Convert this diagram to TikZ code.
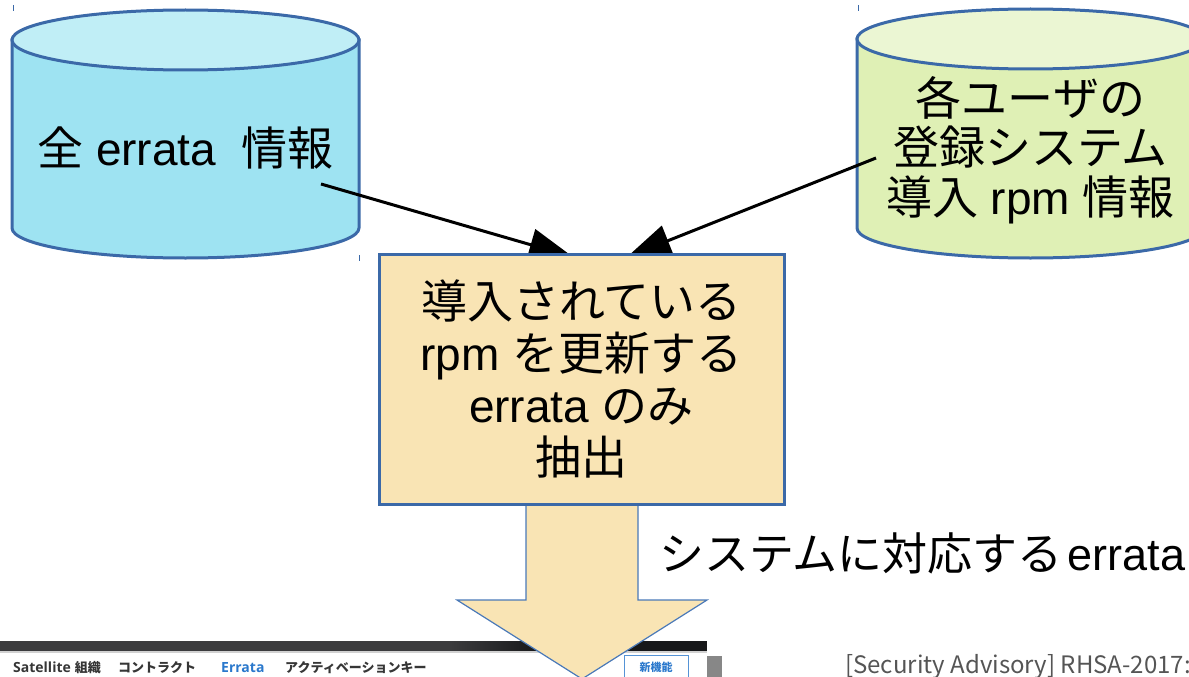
\documentclass[tikz,border=0pt]{standalone}
\usepackage{fontspec}
\setmainfont{Liberation Sans}
\newfontfamily\jp{Noto Sans CJK JP}
\newfontfamily\uilatin{Open Sans}
\usetikzlibrary{arrows.meta}

\definecolor{edgeblue}{HTML}{3B69A8}
\definecolor{cyanbody}{HTML}{9EE3F2}
\definecolor{cyantop}{HTML}{C0EEF6}
\definecolor{limebody}{HTML}{DFF0B5}
\definecolor{limetop}{HTML}{EBF6D3}
\definecolor{wheat}{HTML}{F9E4B4}
\definecolor{arrowedge}{HTML}{4A79B8}
\definecolor{bardark}{HTML}{3B3B3D}
\definecolor{bardeep}{HTML}{17181A}
\definecolor{uigray}{HTML}{363636}
\definecolor{uiblue}{HTML}{2A78CC}
\definecolor{advgray}{HTML}{555555}

% database cylinder: centre x, radius x, top y, bottom y, radius y, body colour, top colour
\newcommand\dbcyl[7]{%
  \filldraw[fill=#6, draw=edgeblue, line width=3pt]
    ({#1-#2},#3) -- ({#1-#2},#4)
    arc[start angle=180, end angle=0, x radius=#2, y radius=#5]
    -- ({#1+#2},#3) -- cycle;
  \filldraw[fill=#7, draw=edgeblue, line width=3pt]
    (#1,#3) ellipse[x radius=#2, y radius=#5];
}

\tikzset{
  bigtext/.style={font=\fontsize{46}{51}\selectfont, align=center, inner sep=0pt},
  feed/.style={line width=3pt, -{Triangle[length=44pt, width=32pt]}},
  uitext/.style={font=\jp\bfseries\fontsize{13}{15}\selectfont, anchor=west, inner sep=0pt},
  tick/.style={draw=edgeblue, line width=1pt}
}
\newcommand\uilat[1]{{\uilatin\bfseries\fontsize{14}{16}\selectfont #1}}

\begin{document}
\begin{tikzpicture}[x=1pt, y=-1pt]
\useasboundingbox (0,0) rectangle (1189,677);
\clip (0,0) rectangle (1189,677);

% the two data stores
\dbcyl{185.5}{173.5}{40}{228}{30}{cyanbody}{cyantop}
\dbcyl{1030.5}{173.5}{39}{228}{30}{limebody}{limetop}
\node[bigtext] (allerrata) at (185.5,148) {{\jp 全} errata\ \ {\jp 情報}};
\node[bigtext, font=\fontsize{46}{49.5}\selectfont] (userrpm) at (1030.5,150)
  {{\jp 各ユーザの}\\{\jp 登録システム}\\{\jp 導入} rpm {\jp 情報}};

% small handle marks
\draw[tick] (13,5) -- (13,11);
\draw[tick] (359,255) -- (359,261);
\draw[tick] (858,5) -- (858,11);

% portal screenshot strip
\fill[bardark] (0,641) rectangle (450,651);
\shade[left color=bardark, right color=bardeep] (450,641) rectangle (540,651);
\fill[bardeep] (540,641) rectangle (707,651);
\fill[black!18] (0,651) rectangle (707,652.5);
\node[uitext, text=uigray] (tabsat) at (13,668) {\uilat{Satellite}\hspace{4pt}組織};
\node[uitext, text=uigray] (tabcon) at (118,668) {コントラクト};
\node[uitext, text=uiblue] (taberr) at (221,668) {\uilat{Errata}};
\node[uitext, text=uigray] (tabact) at (285,668) {アクティベーションキー};
\draw[uiblue!80, line width=1pt] (624,690) -- (624,655.5) -- (688,655.5) -- (688,690);
\node[uitext, anchor=center, text=uiblue, font=\jp\bfseries\fontsize{11}{13}\selectfont] (newfeat) at (656,667) {新機能};
\fill[black!47] (707,656) rectangle (722,677);
\node[anchor=base west, inner sep=0pt, text=advgray, font=\jp\fontsize{24}{27}\selectfont] (advisory) at (845,673)
  {[Security Advisory] RHSA-2017:3};

% output arrow
\filldraw[fill=wheat, draw=arrowedge, line width=1.2pt]
  (526,500) -- (526,600) -- (457,600) -- (582,679) -- (707,600) -- (638,600) -- (638,500);

% feeds into the extraction step
\coordinate (srcL) at (321,184);
\coordinate (tipL) at (573,257);
\coordinate (srcR) at (876,158);
\coordinate (tipR) at (627,257);
\draw[feed] (srcL) -- (tipL);
\draw[feed] (srcR) -- (tipR);

% extraction step
\node[draw=edgeblue, line width=3pt, fill=wheat, minimum width=405pt, minimum height=250pt,
      bigtext, font=\fontsize{46}{52}\selectfont] (extract) at (581.5,379)
  {{\jp 導入されている}\\rpm {\jp を更新する}\\errata {\jp のみ}\\{\jp 抽出}};

\node[bigtext, anchor=west, font=\fontsize{45}{50}\selectfont] (result) at (659,553)
  {{\jp システムに対応する}\hspace{5pt}errata};
\end{tikzpicture}
\end{document}
